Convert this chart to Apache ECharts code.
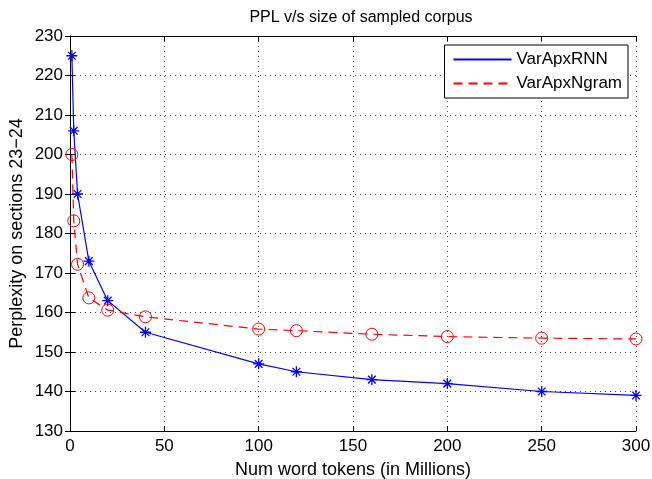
<!DOCTYPE html>
<html>
<head>
<meta charset="utf-8">
<script src="https://cdn.jsdelivr.net/npm/echarts@6/dist/echarts.min.js"></script>
<style>
  html, body { margin: 0; padding: 0; background: #fff; }
  #chart { width: 652px; height: 479px; }
</style>
</head>
<body>
<div id="chart"></div>
<script>
// corpus size in millions of word tokens
var tokens = [1, 2, 4, 10, 20, 40, 100, 120, 160, 200, 250, 300];
var rnnPpl = [225, 206, 190, 173, 163, 155, 147, 145, 143, 142, 140, 139];
var ngramPpl = [200, 183.2, 172.2, 163.7, 160.6, 158.9, 155.8, 155.4, 154.5, 153.9, 153.5, 153.3];

function pairs(xs, ys) {
    return xs.map(function (x, i) { return [x, ys[i]]; });
}

var font = "'Liberation Sans', Arial, sans-serif";
var asterisk = 'path://M0,-10 L0,10 M-10,0 L10,0 M-7,-7 L7,7 M-7,7 L7,-7';

var chart = echarts.init(document.getElementById('chart'));

var axLine = {show: true, lineStyle: {color: '#000', width: 1}};
var axTick = {show: true, inside: true, length: 5, lineStyle: {color: '#000'}};
var dotted = {show: true, lineStyle: {color: '#444', type: [1, 4], width: 1}};

chart.setOption({
    animation: false,
    textStyle: {fontFamily: font},
    title: {
        text: 'PPL v/s size of sampled corpus',
        left: 356, top: 5, textAlign: 'center',
        textStyle: {fontSize: 16, fontWeight: 'normal', color: '#000', fontFamily: font}
    },
    legend: {
        right: 24, top: 45,
        orient: 'vertical',
        itemWidth: 58, itemHeight: 10, itemGap: 7,
        padding: [6, 6, 6, 8],
        borderColor: '#000', borderWidth: 1,
        backgroundColor: '#fff',
        itemStyle: {opacity: 0},
        textStyle: {fontSize: 17, color: '#000', fontFamily: font},
        data: ['VarApxRNN', 'VarApxNgram']
    },
    grid: {left: 70, right: 16, top: 36, bottom: 48, containLabel: false, outerBoundsMode: 'none'},
    xAxis: [{
        type: 'value', min: 0, max: 300, interval: 50,
        name: 'Num word tokens (in Millions)', nameLocation: 'middle', nameGap: 30,
        nameMoveOverlap: false,
        nameTextStyle: {fontSize: 18, color: '#000'},
        axisLabel: {fontSize: 17, color: '#000', margin: 7},
        axisLine: axLine, axisTick: axTick, splitLine: dotted
    }, {
        type: 'value', min: 0, max: 300, interval: 50, position: 'top',
        axisLabel: {show: false},
        axisLine: axLine, axisTick: axTick, splitLine: {show: false}
    }],
    yAxis: [{
        type: 'value', min: 130, max: 230, interval: 10,
        name: 'Perplexity on sections 23\u221224', nameLocation: 'middle', nameGap: 44,
        nameMoveOverlap: false,
        nameTextStyle: {fontSize: 18, color: '#000'},
        axisLabel: {fontSize: 17, color: '#000', margin: 7},
        axisLine: axLine, axisTick: axTick, splitLine: dotted
    }, {
        type: 'value', min: 130, max: 230, interval: 10, position: 'right',
        axisLabel: {show: false},
        axisLine: axLine, axisTick: axTick, splitLine: {show: false}
    }],
    series: [{
        name: 'VarApxRNN', type: 'line',
        data: pairs(tokens, rnnPpl),
        symbol: asterisk, symbolSize: 11,
        itemStyle: {color: '#0000ff', borderColor: '#0000ff', borderWidth: 1.3},
        lineStyle: {color: '#0000ff', width: 1.2}
    }, {
        name: 'VarApxNgram', type: 'line',
        data: pairs(tokens, ngramPpl),
        symbol: 'circle', symbolSize: 12,
        itemStyle: {color: 'rgba(255,255,255,0)', borderColor: '#ff0000', borderWidth: 1},
        lineStyle: {color: '#ff0000', width: 1.2, type: [9, 6]}
    }]
});
</script>
</body>
</html>
